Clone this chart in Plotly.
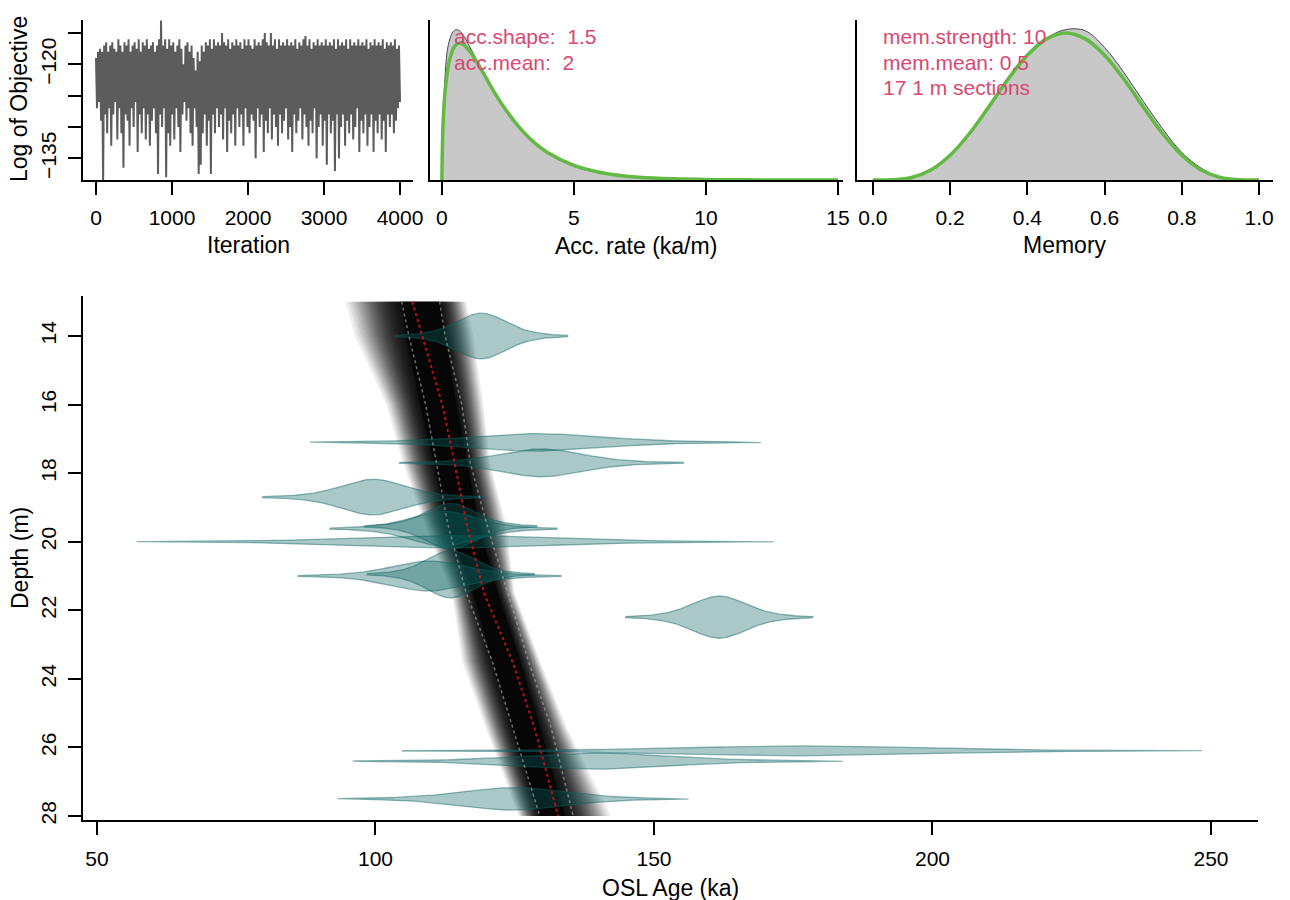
import numpy as np
import plotly.graph_objects as go

W, H = 1290, 900

# ---------------- data ----------------
# MCMC trace (log of objective), evenly spaced over 4000 iterations
log_objective = [
    -119, -127, -118, -126, -117.5, -129, -118, -139, -117, -128,
    -116.5, -131, -118, -127, -117, -133, -116.5, -128, -117.5, -126,
    -118, -132, -116, -127, -117, -131, -118, -136.5, -116.5, -128,
    -117, -129, -116, -133, -118, -127, -117, -130, -116.5, -126,
    -117.5, -134, -116, -128, -118, -131, -116.5, -127, -117, -132,
    -116, -128, -117.5, -133, -117, -129, -116.5, -127, -118, -131,
    -117, -137.5, -116, -128, -113, -130, -117, -127, -116, -138,
    -117.5, -131, -116, -133, -117, -128, -116.5, -132, -118, -127,
    -117, -130, -116, -134, -117.5, -128, -120, -126, -117, -129,
    -116.5, -127, -118, -131, -117, -133, -119, -127, -121, -130,
    -118, -137.5, -119.5, -136, -117, -131, -118, -128, -116.5, -133,
    -117, -129, -116, -137.5, -117.5, -128, -116, -131, -117, -127,
    -116.5, -130, -117, -128, -115, -132, -116.5, -127, -117, -134,
    -116, -129, -117.5, -131, -116.5, -128, -117, -133, -116, -127,
    -117, -130, -116.5, -128, -117.5, -133, -116, -127, -117, -130,
    -116, -131, -117, -128, -117.5, -129, -116, -135, -117, -127,
    -116.5, -130, -117, -128, -116, -134, -115, -129, -116.5, -131,
    -117, -127, -115, -132, -117, -128, -116, -130, -117.5, -133,
    -116, -128, -117, -131, -116.5, -129, -117, -127, -116, -132,
    -117, -130, -116.5, -134, -117, -128, -116, -131, -117.5, -129,
    -116.5, -127, -117, -132, -116, -128, -115.5, -130, -117, -133,
    -116, -129, -117.5, -131, -116.5, -127, -117, -135, -116, -130,
    -117, -128, -116.5, -133, -117, -129, -116, -136, -117, -128,
    -116.5, -131, -117, -129, -116, -137, -117.5, -128, -116, -135,
    -117, -130, -116.5, -128, -117, -133, -116, -129, -117.5, -131,
    -116, -128, -117, -132, -116.5, -130, -117, -127, -116, -134,
    -117, -129, -116.5, -131, -117, -128, -116, -133, -117.5, -130,
    -116.5, -128, -117, -134, -116, -129, -117, -131, -116.5, -128,
    -117, -132, -116, -129, -117.5, -134, -116.5, -128, -117, -130,
    -116.5, -128, -117, -131, -116, -129, -117.5, -127, -117, -126,
]
n_iterations = 4000

# accumulation-rate prior (green) and posterior (grey)
acc_x_prior = [0, 0.05, 0.15, 0.3, 0.5, 0.7, 1.0, 1.5, 2, 2.5, 3, 3.5, 4, 5, 6, 7, 8, 10, 12, 15]
acc_prior = [0, 0.158, 0.254, 0.321, 0.356, 0.363, 0.346, 0.292, 0.231, 0.178, 0.134, 0.099,
             0.073, 0.0385, 0.020, 0.010, 0.005, 0.0013, 0.0003, 0.0]
acc_x_post = [0, 0.1, 0.25, 0.45, 0.6, 0.8, 1.0, 1.5, 2, 2.5, 3, 3.5, 4, 5, 6, 7, 8, 10, 12, 15]
acc_post = [0, 0.25, 0.36, 0.395, 0.398, 0.385, 0.36, 0.295, 0.232, 0.178, 0.132, 0.098,
            0.07, 0.036, 0.018, 0.009, 0.004, 0.001, 0.0002, 0.0]

# memory prior (green) and posterior (grey)
mem_x = [0, 0.05, 0.1, 0.15, 0.2, 0.25, 0.3, 0.35, 0.4, 0.45, 0.5, 0.55, 0.6, 0.65, 0.7,
         0.75, 0.8, 0.85, 0.9, 0.95, 1.0]
mem_prior = [0, 0.003, 0.041, 0.166, 0.413, 0.779, 1.225, 1.687, 2.090, 2.364, 2.461, 2.364,
             2.090, 1.687, 1.225, 0.779, 0.413, 0.166, 0.041, 0.003, 0]
mem_post = [0, 0.003, 0.04, 0.16, 0.40, 0.78, 1.24, 1.72, 2.12, 2.38, 2.52, 2.50,
            2.22, 1.80, 1.32, 0.86, 0.46, 0.20, 0.05, 0.006, 0]

acc_text = ["acc.shape:\u00a0\u00a01.5", "acc.mean:\u00a0\u00a02"]
mem_text = ["mem.strength: 10", "mem.mean: 0.5", "17 1 m sections"]

# age-depth model summary (ka) at depth nodes (m)
band_depth = [13.0, 14.0, 16.0, 17.7, 19.5, 21.5, 23.5, 25.4, 28.0]
band_outer_left = [93.5, 95.3, 101.3, 104.3, 108.4, 113.3, 115.0, 119.2, 125.3]
band_core_left = [104.5, 105.5, 108.0, 110.5, 113.0, 117.5, 121.0, 124.5, 129.5]
band_mean = [106.6, 108.4, 112.0, 114.2, 116.4, 119.5, 124.6, 128.5, 132.8]
band_core_right = [111.5, 112.5, 114.5, 116.5, 118.5, 122.0, 126.0, 129.5, 134.0]
band_outer_right = [116.8, 118.1, 119.9, 121.0, 124.0, 125.3, 130.0, 134.8, 143.2]
range_low = [104.7, 106.0, 109.0, 111.0, 113.0, 116.3, 121.0, 124.6, 129.5]
range_high = [111.5, 112.5, 115.5, 117.0, 120.0, 123.7, 127.5, 131.5, 135.5]

# OSL dates: depth (m), central age (ka), half-range of drawn distribution (ka)
osl_depth = [14.0, 17.1, 17.7, 18.7, 19.62, 19.55, 20.0, 21.0, 20.95, 22.2, 26.1, 26.4, 27.5]
osl_age = [119.0, 128.7, 129.8, 99.6, 112.2, 113.5, 114.3, 109.7, 113.5, 161.7, 176.6, 139.9, 124.7]
osl_halfrange = [15.5, 40.5, 25.5, 19.9, 20.4, 15.5, 57.2, 23.6, 15.0, 16.8, 71.8, 44.0, 31.5]

# ---------------- figure ----------------
FONT = "Liberation Sans, Arial, sans-serif"
fig = go.Figure()

# --- trace panel
it = np.linspace(0, n_iterations, len(log_objective))
fig.add_trace(go.Scatter(x=it, y=log_objective, mode="lines",
                         line=dict(color="rgb(92,92,92)", width=2),
                         xaxis="x2", yaxis="y2", hoverinfo="skip", showlegend=False))

# --- accumulation rate panel
fig.add_trace(go.Scatter(x=acc_x_post, y=acc_post, mode="lines", fill="tozeroy",
                         fillcolor="rgb(200,200,200)", line=dict(color="rgb(70,70,80)", width=1, shape="spline"),
                         xaxis="x3", yaxis="y3", hoverinfo="skip", showlegend=False))
fig.add_trace(go.Scatter(x=acc_x_prior, y=acc_prior, mode="lines",
                         line=dict(color="rgb(98,186,66)", width=3.5, shape="spline"),
                         xaxis="x3", yaxis="y3", hoverinfo="skip", showlegend=False))

# --- memory panel
fig.add_trace(go.Scatter(x=mem_x, y=mem_post, mode="lines", fill="tozeroy",
                         fillcolor="rgb(200,200,200)", line=dict(color="rgb(70,70,80)", width=1, shape="spline"),
                         xaxis="x4", yaxis="y4", hoverinfo="skip", showlegend=False))
fig.add_trace(go.Scatter(x=mem_x, y=mem_prior, mode="lines",
                         line=dict(color="rgb(98,186,66)", width=3.5, shape="spline"),
                         xaxis="x4", yaxis="y4", hoverinfo="skip", showlegend=False))

# --- age-depth greyscale band (nested translucent polygons)
bd = np.array(band_depth)
ol, cl = np.array(band_outer_left), np.array(band_core_left)
cr, orr = np.array(band_core_right), np.array(band_outer_right)
N_LAYERS = 32
for k in range(1, N_LAYERS + 1):
    t = 1 - (k / N_LAYERS) ** (2 / 3)
    left = cl - t * (cl - ol)
    right = cr + t * (orr - cr)
    fig.add_trace(go.Scatter(x=np.concatenate([left, right[::-1], left[:1]]),
                             y=np.concatenate([bd, bd[::-1], bd[:1]]),
                             mode="lines", fill="toself", fillcolor="rgba(0,0,0,0.075)",
                             line=dict(width=0), hoverinfo="skip", showlegend=False))
fig.add_trace(go.Scatter(x=np.concatenate([cl, cr[::-1], cl[:1]]),
                         y=np.concatenate([bd, bd[::-1], bd[:1]]),
                         mode="lines", fill="toself", fillcolor="rgba(0,0,0,0.6)",
                         line=dict(width=0), hoverinfo="skip", showlegend=False))

# --- OSL date distributions
for d, mu, R in zip(osl_depth, osl_age, osl_halfrange):
    xs = mu + R * np.linspace(-1, 1, 201)
    z = (xs - mu) / (R / 3.8)
    h = (10.35 / R) * (1 + z ** 2 / 8) ** -3.5
    fig.add_trace(go.Scatter(x=np.concatenate([xs, xs[::-1], xs[:1]]),
                             y=np.concatenate([d - h, (d + h)[::-1], [d - h[0]]]),
                             mode="lines", fill="toself", fillcolor="rgba(12,98,98,0.35)",
                             line=dict(color="rgba(12,98,98,0.45)", width=1.3),
                             hoverinfo="skip", showlegend=False))

# --- range and mean lines
for arr in (range_low, range_high):
    fig.add_trace(go.Scatter(x=arr, y=band_depth, mode="lines",
                             line=dict(color="rgba(175,175,175,0.6)", width=1.5, dash="dot"),
                             hoverinfo="skip", showlegend=False))
fig.add_trace(go.Scatter(x=band_mean, y=band_depth, mode="lines",
                         line=dict(color="rgba(215,20,20,0.85)", width=2, dash="dot"),
                         hoverinfo="skip", showlegend=False))

# ---------------- axes ----------------
def ax(**kw):
    base = dict(showline=True, linecolor="black", linewidth=2, ticks="outside", ticklen=13,
                tickwidth=2, tickcolor="black", showgrid=False, zeroline=False, automargin=False,
                tickfont=dict(size=21, color="black", family=FONT), fixedrange=True)
    base.update(kw)
    return base

top_y = [1 - 180 / H, 1 - 20 / H]
fig.update_layout(
    width=W, height=H, margin=dict(l=0, r=0, t=0, b=0, autoexpand=False),
    paper_bgcolor="white", plot_bgcolor="rgba(0,0,0,0)",
    xaxis=ax(domain=[83 / W, 1258 / W], range=[47.49, 258.44], anchor="y",
             tickvals=[50, 100, 150, 200, 250], ticklabelstandoff=6),
    yaxis=ax(domain=[1 - 820 / H, 1 - 296 / H], range=[28.117, 12.833], anchor="x",
             tickvals=[14, 16, 18, 20, 22, 24, 26, 28], tickangle=-90, ticklabelstandoff=4),
    xaxis2=ax(domain=[83 / W, 413 / W], range=[-171, 4171], anchor="y2",
              tickvals=[0, 1000, 2000, 3000, 4000], ticklabelstandoff=5),
    yaxis2=ax(domain=top_y, range=[-138.45, -112.93], anchor="x2",
              tickvals=[-115, -120, -125, -130, -135],
              ticktext=["", "\u2212120", "", "", "\u2212135"], tickangle=-90, ticklabelstandoff=4),
    xaxis3=ax(domain=[430 / W, 843 / W], range=[-0.45, 15.19], anchor="y3",
              tickvals=[0, 5, 10, 15], ticklabelstandoff=5),
    yaxis3=ax(domain=top_y, range=[0, 0.424], anchor="x3", ticks="", showticklabels=False),
    xaxis4=ax(domain=[857 / W, 1273 / W], range=[-0.041, 1.036], anchor="y4",
              tickvals=[0, 0.2, 0.4, 0.6, 0.8, 1.0],
              ticktext=["0.0", "0.2", "0.4", "0.6", "0.8", "1.0"], ticklabelstandoff=5),
    yaxis4=ax(domain=top_y, range=[0, 2.68], anchor="x4", ticks="", showticklabels=False),
)

# ---------------- titles and annotations ----------------
def note(text, px, py, size=23, angle=0, color="black", xanchor="center"):
    fig.add_annotation(text=text, x=px / W, y=1 - py / H, xref="paper", yref="paper",
                       showarrow=False, textangle=angle, xanchor=xanchor, yanchor="middle",
                       font=dict(size=size, color=color, family=FONT))

note("Iteration", 248, 245)
note("Acc. rate (ka/m)", 636, 246)
note("Memory", 1065, 245)
note("Log of Objective", 19, 99, angle=-90)
note("OSL Age (ka)", 670, 888)
note("Depth (m)", 20, 558, angle=-90)

PINK = "rgb(217,72,110)"
for i, t in enumerate(acc_text):
    note(t, 452, 36 + 26 * i, size=21, color=PINK, xanchor="left")
for i, t in enumerate(mem_text):
    note(t, 881, 37 + 25.5 * i, size=21, color=PINK, xanchor="left")

fig.write_html("out.html",
               post_script="document.body.style.margin='0';document.body.style.overflow='hidden';")
